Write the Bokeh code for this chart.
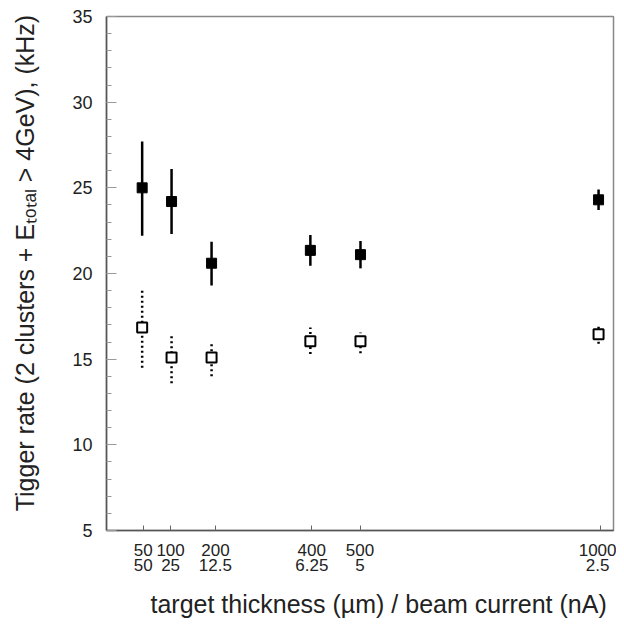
from bokeh.plotting import figure
from bokeh.models import Range1d, FixedTicker, Title
from bokeh.embed import file_html
from bokeh.resources import INLINE

# tick positions and their two-line labels
tick_pos = [50, 107, 200, 400, 500, 1000]
thickness = ["50", "100", "200", "400", "500", "1000"]
current = ["50", "25", "12.5", "6.25", "5", "2.5"]

# measured x positions of the points
x_pts = [48, 109, 192, 397, 501, 995]

# filled squares (upper series)
filled_y = [25.0, 24.2, 20.6, 21.35, 21.1, 24.3]
filled_lo = [22.2, 22.3, 19.3, 20.45, 20.3, 23.7]
filled_hi = [27.7, 26.1, 21.85, 22.25, 21.9, 24.9]

# open squares (lower series)
open_y = [16.85, 15.1, 15.1, 16.05, 16.05, 16.45]
open_lo = [14.5, 13.6, 14.0, 15.3, 15.35, 15.9]
open_hi = [19.0, 16.45, 16.0, 16.85, 16.55, 16.9]

x_title = "target thickness (\u00b5m) / beam current (nA)"
y_title = "Tigger rate (2 clusters + E\u209c\u2092\u209c\u2090\u2097 > 4GeV), (kHz)"

FONT = "Liberation Sans"

p = figure(width=616, height=628, output_backend="svg", toolbar_location=None,
           x_range=Range1d(-26, 1026), y_range=Range1d(5, 35),
           min_border_left=106, min_border_right=3, min_border_top=16, min_border_bottom=96)

p.grid.visible = False
p.outline_line_color = "#888888"
p.outline_line_width = 1.5

# error bars
p.segment(x0=x_pts, y0=filled_lo, x1=x_pts, y1=filled_hi, line_color="black", line_width=2.5)
p.segment(x0=x_pts, y0=open_lo, x1=x_pts, y1=open_hi, line_color="black", line_width=2.5,
          line_dash="2 3")

# markers
p.scatter(x_pts, filled_y, marker="square", size=10, fill_color="black", line_color="black")
p.scatter(x_pts, open_y, marker="square", size=10, fill_color="white", line_color="black",
          line_width=2)

# x axis
xa = p.xaxis[0]
xa.ticker = FixedTicker(ticks=tick_pos, minor_ticks=[])
xa.major_label_overrides = {t: f"{a}\n{b}" for t, a, b in zip(tick_pos, thickness, current)}
xa.major_tick_in = 5
xa.major_tick_out = 0
xa.minor_tick_in = 0
xa.minor_tick_out = 0
xa.axis_line_color = "#555555"
xa.axis_line_width = 1.5
xa.major_tick_line_color = "#666666"
xa.major_label_text_font = FONT
xa.major_label_text_font_size = "17px"
xa.major_label_text_color = "#222222"
xa.major_label_text_line_height = 0.8
xa.major_label_standoff = 10

# y axis
ya = p.yaxis[0]
ya.ticker = FixedTicker(ticks=[5, 10, 15, 20, 25, 30, 35],
                        minor_ticks=list(range(5, 36)))
ya.major_tick_in = 10
ya.major_tick_out = 0
ya.minor_tick_in = 5
ya.minor_tick_out = 0
ya.axis_line_color = "#555555"
ya.axis_line_width = 1.5
ya.major_tick_line_color = "#999999"
ya.minor_tick_line_color = "#999999"
ya.major_label_text_font = FONT
ya.major_label_text_font_size = "18px"
ya.major_label_text_color = "#222222"
ya.major_label_standoff = 14
ya.axis_label = "\u00a0\u00a0\u00a0" + y_title
ya.axis_label_text_font = FONT
ya.axis_label_text_font_size = "25px"
ya.axis_label_text_font_style = "normal"
ya.axis_label_text_color = "#222222"
ya.axis_label_standoff = 30

# x-axis title as a side-panel title (off-centre, as in the reference)
p.add_layout(Title(text=x_title, align="left", offset=44, standoff=21,
                   text_font=FONT, text_font_size="25px", text_font_style="normal",
                   text_color="#222222"), "below")

open("out.html", "w").write(file_html(p, INLINE))
